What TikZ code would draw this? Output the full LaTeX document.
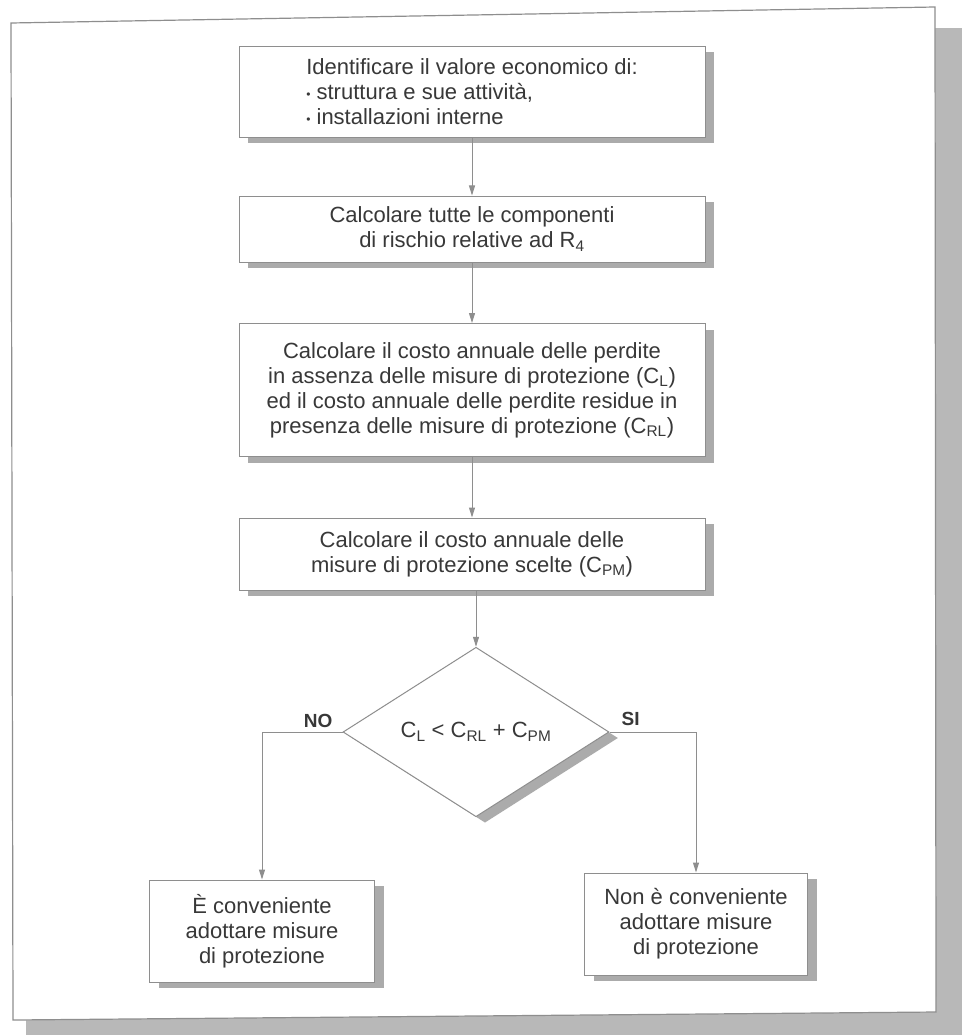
\documentclass[tikz,border=0pt]{standalone}
\usepackage{fontspec}
\setmainfont{Liberation Sans}
\definecolor{ink}{HTML}{383838}
\definecolor{rule}{HTML}{8E8E8E}
\definecolor{shade}{HTML}{ABABAB}
\usetikzlibrary{arrows.meta,positioning,shadows,shapes.geometric}
\newcommand{\pnt}{\raisebox{1.8pt}{\fontsize{12}{12}\selectfont\textbullet}\ }

\begin{document}
\begin{tikzpicture}[x=1pt,y=-1pt,
  box/.style={draw=rule,line width=1pt,fill=white,text=ink,align=center,inner sep=3pt,
    font=\fontsize{22}{25}\selectfont,
    drop shadow={shadow xshift=9pt,shadow yshift=-6pt,fill=shade,opacity=1}},
  test/.style={box,diamond,inner sep=0pt,minimum width=266pt,minimum height=162pt},
  flow/.style={draw=rule,line width=1pt,-{Triangle[length=10pt,width=6pt]}},
  lbl/.style={text=ink,inner sep=1pt,font=\fontsize{19}{19}\selectfont\bfseries}]
\useasboundingbox (0,0) rectangle (962,1035);
% page frame
\fill[shade!85] (26,28) rectangle (962,1035);
\draw[rule,fill=white,line width=1.2pt] (11,23) -- (935,7) -- (936,1012) -- (13,1020) -- cycle;

\node[box,align=left,minimum width=466pt,minimum height=91pt] (econ) at (472,92)
  {Identificare il valore economico di:\\ \pnt struttura e sue attività,\\ \pnt installazioni interne};
\node[box,minimum width=466pt,minimum height=66pt] (comp) at (472,229)
  {Calcolare tutte le componenti\\ di rischio relative ad R\textsubscript{4}};
\node[box,minimum width=466pt,minimum height=133pt] (loss) at (472,390)
  {Calcolare il costo annuale delle perdite\\ in assenza delle misure di protezione (C\textsubscript{L})\\
   ed il costo annuale delle perdite residue in\\ presenza delle misure di protezione (C\textsubscript{RL})};
\node[box,minimum width=466pt,minimum height=72pt] (prot) at (472,554)
  {Calcolare il costo annuale delle\\ misure di protezione scelte (C\textsubscript{PM})};
\node[test] (cmp) at (476,732)
  {C\textsubscript{L} < C\textsubscript{RL} + C\textsubscript{PM}};
\node[box,minimum width=225pt,minimum height=102pt] (worth) at (262,931)
  {È conveniente\\ adottare misure\\ di protezione};
\node[box,minimum width=223pt,minimum height=102pt] (notworth) at (696,924)
  {Non è conveniente\\ adottare misure\\ di protezione};

\draw[flow] (econ) -- (comp);
\draw[flow] (comp) -- (loss);
\draw[flow] (loss) -- (prot);
\draw[flow] (prot.south -| cmp.north) -- (cmp.north);
\draw[flow] (cmp.west) -| (worth.north);
\draw[flow] (cmp.east) -| (notworth.north);
\node[lbl,above left=3pt and 9pt of cmp.west] (no) {NO};
\node[lbl,above right=5pt and 11pt of cmp.east] (si) {SI};
\end{tikzpicture}
\end{document}
